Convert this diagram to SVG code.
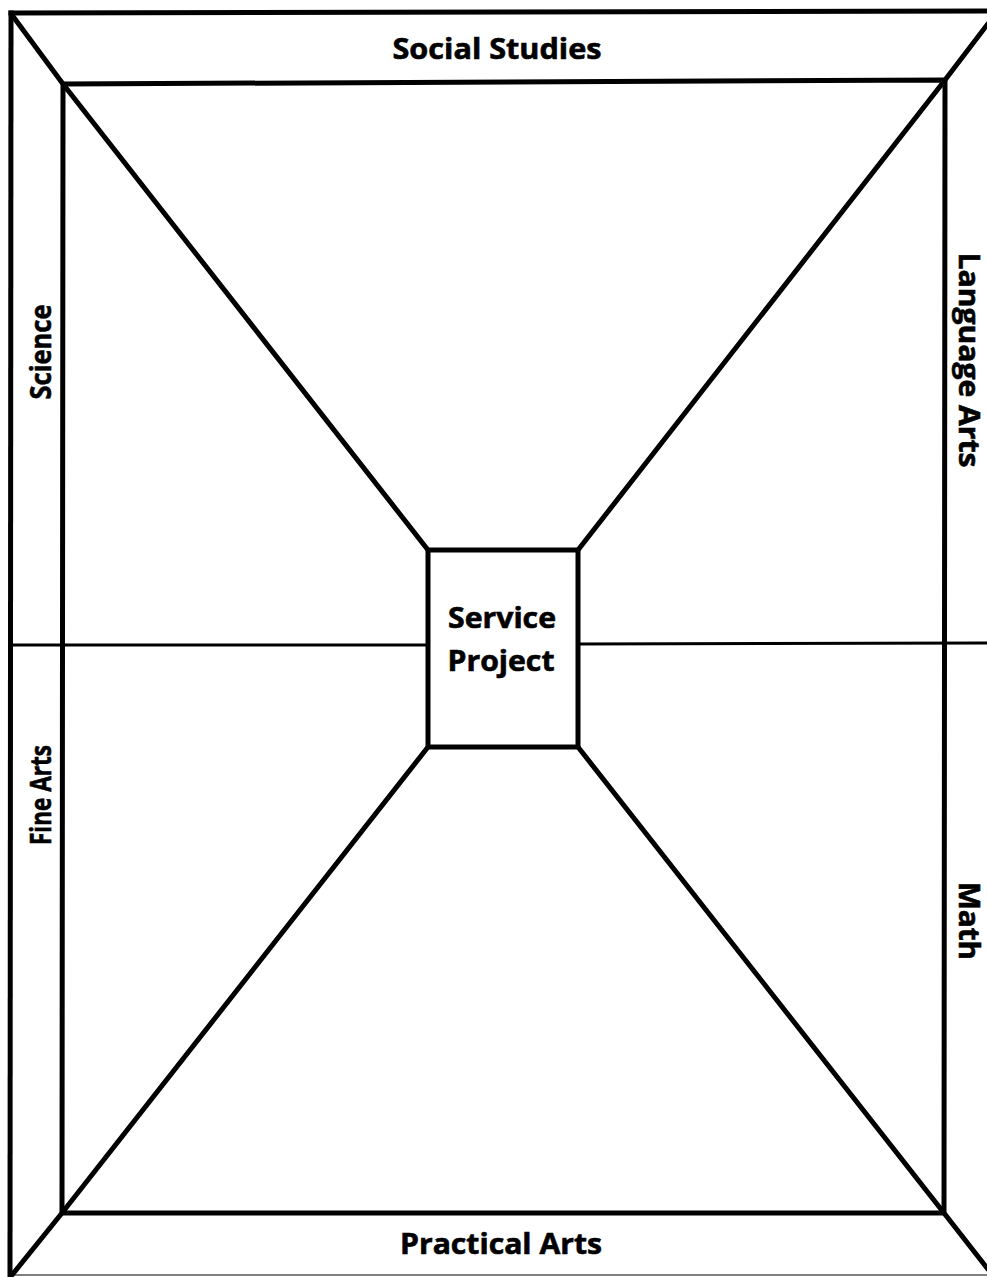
<svg xmlns="http://www.w3.org/2000/svg" width="987" height="1277" viewBox="0 0 987 1277">
<style>
.bg{fill:#ffffff}
.thick{stroke:#000;stroke-width:5;fill:none;stroke-linecap:square}
.mid{stroke:#000;stroke-width:3;fill:none}
.thin{stroke:#555;stroke-width:1.5;fill:none}
.lbl{font-family:"Open Sans","Liberation Sans",sans-serif;font-weight:bold;font-size:28px;fill:#000;stroke:#000;stroke-width:0.6}
</style>
<rect class="bg" x="0" y="0" width="987" height="1277"/>
<g id="frame">
<line class="thick" x1="11" y1="13" x2="987" y2="11"/>
<line class="thick" x1="11" y1="13" x2="10" y2="1275"/>
<line class="thin" x1="10" y1="1275" x2="987" y2="1275"/>
</g>
<g id="inner-frame">
<polygon class="thick" points="63,84 945,80 944,1213 62,1213" stroke-linejoin="miter"/>
</g>
<g id="connectors">
<polyline class="thick" points="12,15 63,84 428,550"/>
<polyline class="thick" points="987,25 945,80 578,550"/>
<polyline class="thick" points="12,1275 62,1213 428,747"/>
<polyline class="thick" points="987,1268 944,1213 578,747"/>
<line class="mid" x1="10" y1="645" x2="428" y2="645"/>
<line class="mid" x1="578" y1="644" x2="987" y2="643"/>
</g>
<g id="social-studies"><text class="lbl" x="497" y="59" text-anchor="middle" textLength="209" lengthAdjust="spacingAndGlyphs">Social Studies</text></g>
<g id="practical-arts"><text class="lbl" x="501" y="1254" text-anchor="middle" textLength="202" lengthAdjust="spacingAndGlyphs">Practical Arts</text></g>
<g id="science"><text class="lbl" transform="translate(51,352) rotate(-90)" text-anchor="middle" textLength="95" lengthAdjust="spacingAndGlyphs">Science</text></g>
<g id="fine-arts"><text class="lbl" transform="translate(51,795) rotate(-90)" text-anchor="middle" textLength="100" lengthAdjust="spacingAndGlyphs">Fine Arts</text></g>
<g id="language-arts"><text class="lbl" transform="translate(959,360) rotate(90)" text-anchor="middle" textLength="215" lengthAdjust="spacingAndGlyphs">Language Arts</text></g>
<g id="math"><text class="lbl" transform="translate(959,921) rotate(90)" text-anchor="middle" textLength="78" lengthAdjust="spacingAndGlyphs">Math</text></g>
<g id="service-project">
<rect class="thick" x="428" y="550" width="150" height="197"/>
<text class="lbl" x="502" y="628" text-anchor="middle" textLength="108" lengthAdjust="spacingAndGlyphs">Service</text>
<text class="lbl" x="501" y="671" text-anchor="middle" textLength="107" lengthAdjust="spacingAndGlyphs">Project</text>
</g>
</svg>
